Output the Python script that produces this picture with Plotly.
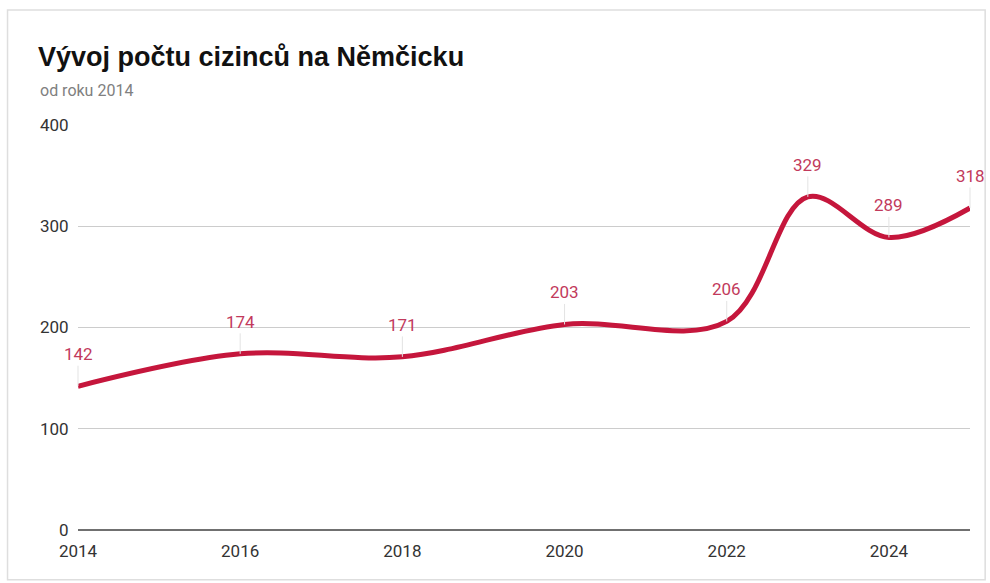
import plotly.graph_objects as go

# Data
years = [2014, 2016, 2018, 2020, 2022, 2023, 2024, 2025]
foreigners = [142, 174, 171, 203, 206, 329, 289, 318]
x_ticks = [2014, 2016, 2018, 2020, 2022, 2024]
y_ticks = [0, 100, 200, 300, 400]

red = "#c5163c"
label_red = "#c23a5c"

fig = go.Figure()

fig.add_trace(go.Scatter(
    x=years, y=foreigners,
    mode="lines",
    line=dict(color=red, width=5, shape="spline", smoothing=1.0),
    cliponaxis=False,
    hoverinfo="x+y",
    showlegend=False,
))

# value labels with small leader lines
for yr, val in zip(years, foreigners):
    fig.add_annotation(
        x=yr, y=val, text=str(val),
        showarrow=True, arrowhead=0, arrowwidth=1, arrowcolor="#e3e3e3",
        ax=0, ay=-32,
        font=dict(family="Roboto", size=17, color=label_red),
    )

# subtitle
fig.add_annotation(
    text="od roku 2014", xref="paper", yref="paper",
    x=-0.045, y=1.086, xanchor="left", yanchor="middle",
    showarrow=False, font=dict(family="Roboto", size=16, color="#808080"),
)

# card border
fig.add_shape(
    type="rect", xref="paper", yref="paper",
    x0=-0.079, x1=1.017, y0=-0.123, y1=1.284,
    line=dict(color="#dedede", width=1.5), layer="below",
)

fig.update_layout(
    width=990, height=583,
    margin=dict(l=78, r=20, t=125, b=53),
    paper_bgcolor="white", plot_bgcolor="white",
    title=dict(
        text="<b>Vývoj počtu cizinců na Němčicku</b>",
        x=38 / 990, xanchor="left", xref="container",
        y=1 - 57 / 583, yanchor="middle", yref="container",
        font=dict(family="Liberation Sans, Arial", size=27, color="#111111"),
    ),
    font=dict(family="Roboto", size=17, color="#333333"),
    xaxis=dict(
        range=[2014, 2025], tickvals=x_ticks,
        showgrid=False, zeroline=False, showline=False,
        ticks="", ticklabelstandoff=9,
        tickfont=dict(family="Roboto", size=17, color="#333333"),
    ),
    yaxis=dict(
        range=[0, 400], tickvals=y_ticks,
        showgrid=True, gridcolor="#cccccc", gridwidth=1,
        zeroline=True, zerolinecolor="#707070", zerolinewidth=2,
        ticks="outside", ticklen=5, tickcolor="white",
        tickfont=dict(family="Roboto", size=17, color="#333333"),
    ),
)

fig.write_html(
    "out.html",
    config={"displayModeBar": False},
    post_script="document.body.style.margin='0px';document.body.style.overflow='hidden';",
)
